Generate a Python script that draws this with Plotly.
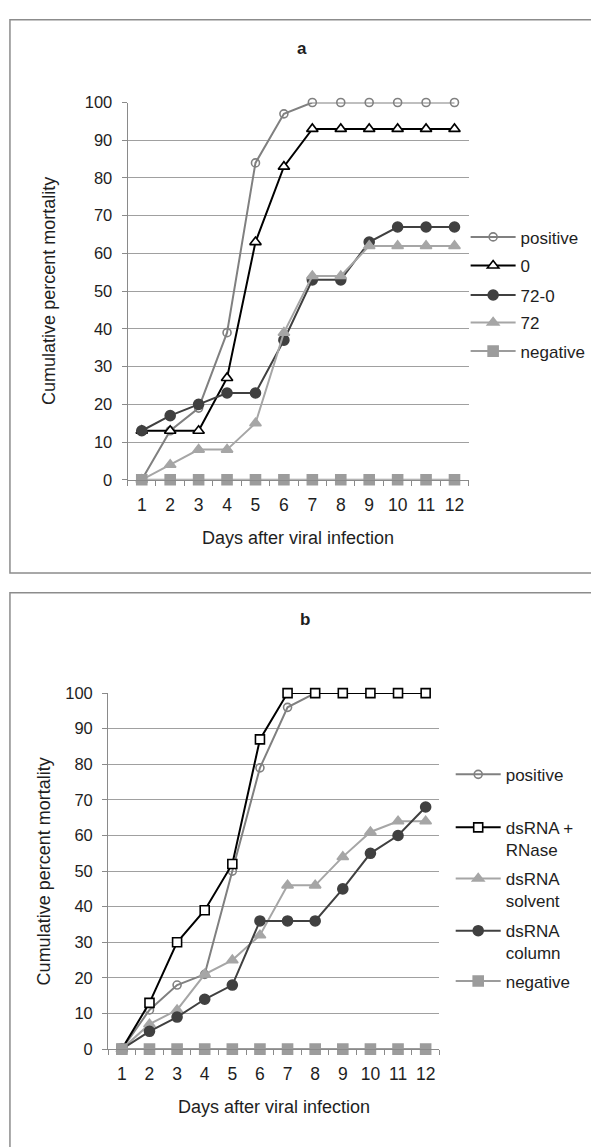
import plotly.graph_objects as go

W, H = 591, 1147

# ---------------- data ----------------
days = [1, 2, 3, 4, 5, 6, 7, 8, 9, 10, 11, 12]
day_labels = ["1", "2", "3", "4", "5", "6", "7", "8", "9", "10", "11", "12"]
y_ticks = [0, 10, 20, 30, 40, 50, 60, 70, 80, 90, 100]

a_names = ["positive", "0", "72-0", "72", "negative"]
a_positive = [0, 13, 19, 39, 84, 97, 100, 100, 100, 100, 100, 100]
a_zero = [13, 13, 13, 27, 63, 83, 93, 93, 93, 93, 93, 93]
a_72_0 = [13, 17, 20, 23, 23, 37, 53, 53, 63, 67, 67, 67]
a_72 = [0, 4, 8, 8, 15, 39, 54, 54, 62, 62, 62, 62]
a_negative = [0, 0, 0, 0, 0, 0, 0, 0, 0, 0, 0, 0]

b_names = ["positive", "dsRNA +<br>RNase", "dsRNA<br>solvent", "dsRNA<br>column", "negative"]
b_positive = [0, 11, 18, 21, 50, 79, 96, 100, 100, 100, 100, 100]
b_rnase = [0, 13, 30, 39, 52, 87, 100, 100, 100, 100, 100, 100]
b_solvent = [0, 7, 11, 21, 25, 32, 46, 46, 54, 61, 64, 64]
b_column = [0, 5, 9, 14, 18, 36, 36, 36, 45, 55, 60, 68]
b_negative = [0, 0, 0, 0, 0, 0, 0, 0, 0, 0, 0, 0]

titles = ["a", "b"]
x_title = "Days after viral infection"
y_title = "Cumulative percent mortality"

# ---------------- helpers ----------------
def X(px):
    return px / W

def Y(py):
    return 1 - py / H

FONT = "Liberation Sans, Arial, sans-serif"
TXT = "#1e1e1e"

GRAY = "#808080"
DARK = "#404040"
LIGHT = "#a6a6a6"
NEG = "#9c9c9c"
# (line colour, marker symbol, marker fill, marker size)
styles_a = [
    (GRAY, "circle-open", GRAY, 8),
    ("#000000", "triangle-up", "white", 10),
    (DARK, "circle", DARK, 10),
    (LIGHT, "triangle-up", LIGHT, 10),
    (NEG, "square", NEG, 10),
]
styles_b = [
    (GRAY, "circle-open", GRAY, 8),
    ("#000000", "square", "white", 9),
    (LIGHT, "triangle-up", LIGHT, 10),
    (DARK, "circle", DARK, 10),
    (NEG, "square", NEG, 10),
]

fig = go.Figure()

legend_layouts = {}
leg_a_x = 468
leg_a_y = [232, 261, 291, 319, 348]
leg_b_x = 453
leg_b_y = [778, 832, 884, 937, 988]
LEG_FONT = 17
LINE_H = LEG_FONT * 1.3


def add_series(values_list, names, styles, xa, ya, leg_x, leg_ys, leg_start):
    for i, (vals, name, st) in enumerate(zip(values_list, names, styles)):
        col, sym, fill, size = st
        lg = "legend" if leg_start + i == 1 else f"legend{leg_start + i}"
        if sym == "circle-open":
            marker = dict(symbol=sym, size=size, color=col, line=dict(color=col, width=1.6))
        else:
            marker = dict(symbol=sym, size=size, color=fill, line=dict(color=col, width=1.6))
        fig.add_trace(go.Scatter(
            x=days, y=vals, name=name, mode="lines+markers",
            line=dict(color=col, width=2), marker=marker,
            xaxis=xa, yaxis=ya, cliponaxis=False,
            legend=lg, showlegend=True,
        ))
        nlines = name.count("<br>") + 1
        cy = leg_ys[i] + (nlines - 1) * LINE_H / 2
        legend_layouts[lg] = dict(
            x=X(leg_x), xanchor="left", y=Y(cy), yanchor="middle",
            bgcolor="rgba(0,0,0,0)", borderwidth=0,
            font=dict(family=FONT, size=LEG_FONT, color=TXT),
            itemwidth=45, valign="top", tracegroupgap=0,
        )


add_series([a_positive, a_zero, a_72_0, a_72, a_negative], a_names, styles_a,
           "x", "y", leg_a_x, leg_a_y, 1)
add_series([b_positive, b_rnase, b_solvent, b_column, b_negative], b_names, styles_b,
           "x2", "y2", leg_b_x, leg_b_y, 6)

AX = "#8a8a8a"
GRID = "#a0a0a0"


def xaxis_cfg(l, r, anchor):
    return dict(
        domain=[X(l), X(r)], range=[0.5, 12.5], anchor=anchor,
        tickmode="array", tickvals=days, ticktext=day_labels,
        ticks="", showgrid=False, zeroline=False,
        showline=True, linecolor=AX, linewidth=1,
        tickfont=dict(family=FONT, size=17.5, color=TXT),
        ticklabelstandoff=9,
        minor=dict(tickmode="linear", tick0=0.5, dtick=1, ticks="outside",
                   ticklen=5, tickcolor=AX, tickwidth=1, showgrid=False),
        fixedrange=True,
    )


def yaxis_cfg(top, bottom, anchor):
    return dict(
        domain=[Y(bottom), Y(top)], range=[0, 100], anchor=anchor,
        tickmode="array", tickvals=y_ticks,
        ticks="outside", ticklen=5, tickcolor=AX, tickwidth=1,
        showgrid=True, gridcolor=GRID, gridwidth=1, zeroline=False,
        showline=True, linecolor=AX, linewidth=1,
        tickfont=dict(family=FONT, size=16.5, color=TXT),
        ticklabelstandoff=6,
        fixedrange=True,
    )


A_L, A_R, A_T, A_B = 128.2, 471.1, 95.0, 478.3
B_L, B_R, B_T, B_B = 108.6, 441.7, 695.0, 1056.7


def ann(text, px, py, size, angle=0):
    return dict(text=text, x=X(px), y=Y(py), xref="paper", yref="paper",
                xanchor="center", yanchor="middle", showarrow=False,
                textangle=angle, font=dict(family=FONT, size=size, color=TXT))


annotations = [
    ann("<b>" + titles[0] + "</b>", 304, 40, 17),
    ann("<b>" + titles[1] + "</b>", 307, 620, 17),
    ann(x_title, (A_L + A_R) / 2, 537, 18),
    ann(x_title, (B_L + B_R) / 2, 1115, 18),
    ann(y_title, 49, (A_T + A_B) / 2, 18, -90),
    ann(y_title, 44.5, (B_T + B_B) / 2, 18, -90),
]

shapes = [
    dict(type="rect", xref="paper", yref="paper", x0=X(10), x1=X(600), y0=Y(573), y1=Y(11),
         line=dict(color="#8c8c8c", width=1.5), fillcolor="rgba(0,0,0,0)"),
    dict(type="rect", xref="paper", yref="paper", x0=X(10), x1=X(600), y0=Y(1160), y1=Y(593),
         line=dict(color="#8c8c8c", width=1.5), fillcolor="rgba(0,0,0,0)"),
]

fig.update_layout(
    width=W, height=H, autosize=False,
    margin=dict(l=0, r=0, t=0, b=0),
    paper_bgcolor="white", plot_bgcolor="white",
    font=dict(family=FONT, color=TXT),
    hovermode=False,
    xaxis=xaxis_cfg(A_L, A_R, "y"),
    yaxis=yaxis_cfg(A_T, A_B, "x"),
    xaxis2=xaxis_cfg(B_L, B_R, "y2"),
    yaxis2=yaxis_cfg(B_T, B_B, "x2"),
    annotations=annotations,
    shapes=shapes,
    **legend_layouts,
)

fig.write_html(
    "out.html",
    config={"displayModeBar": False, "staticPlot": True},
    post_script="document.body.style.margin='0px';document.body.style.overflow='hidden';",
)
